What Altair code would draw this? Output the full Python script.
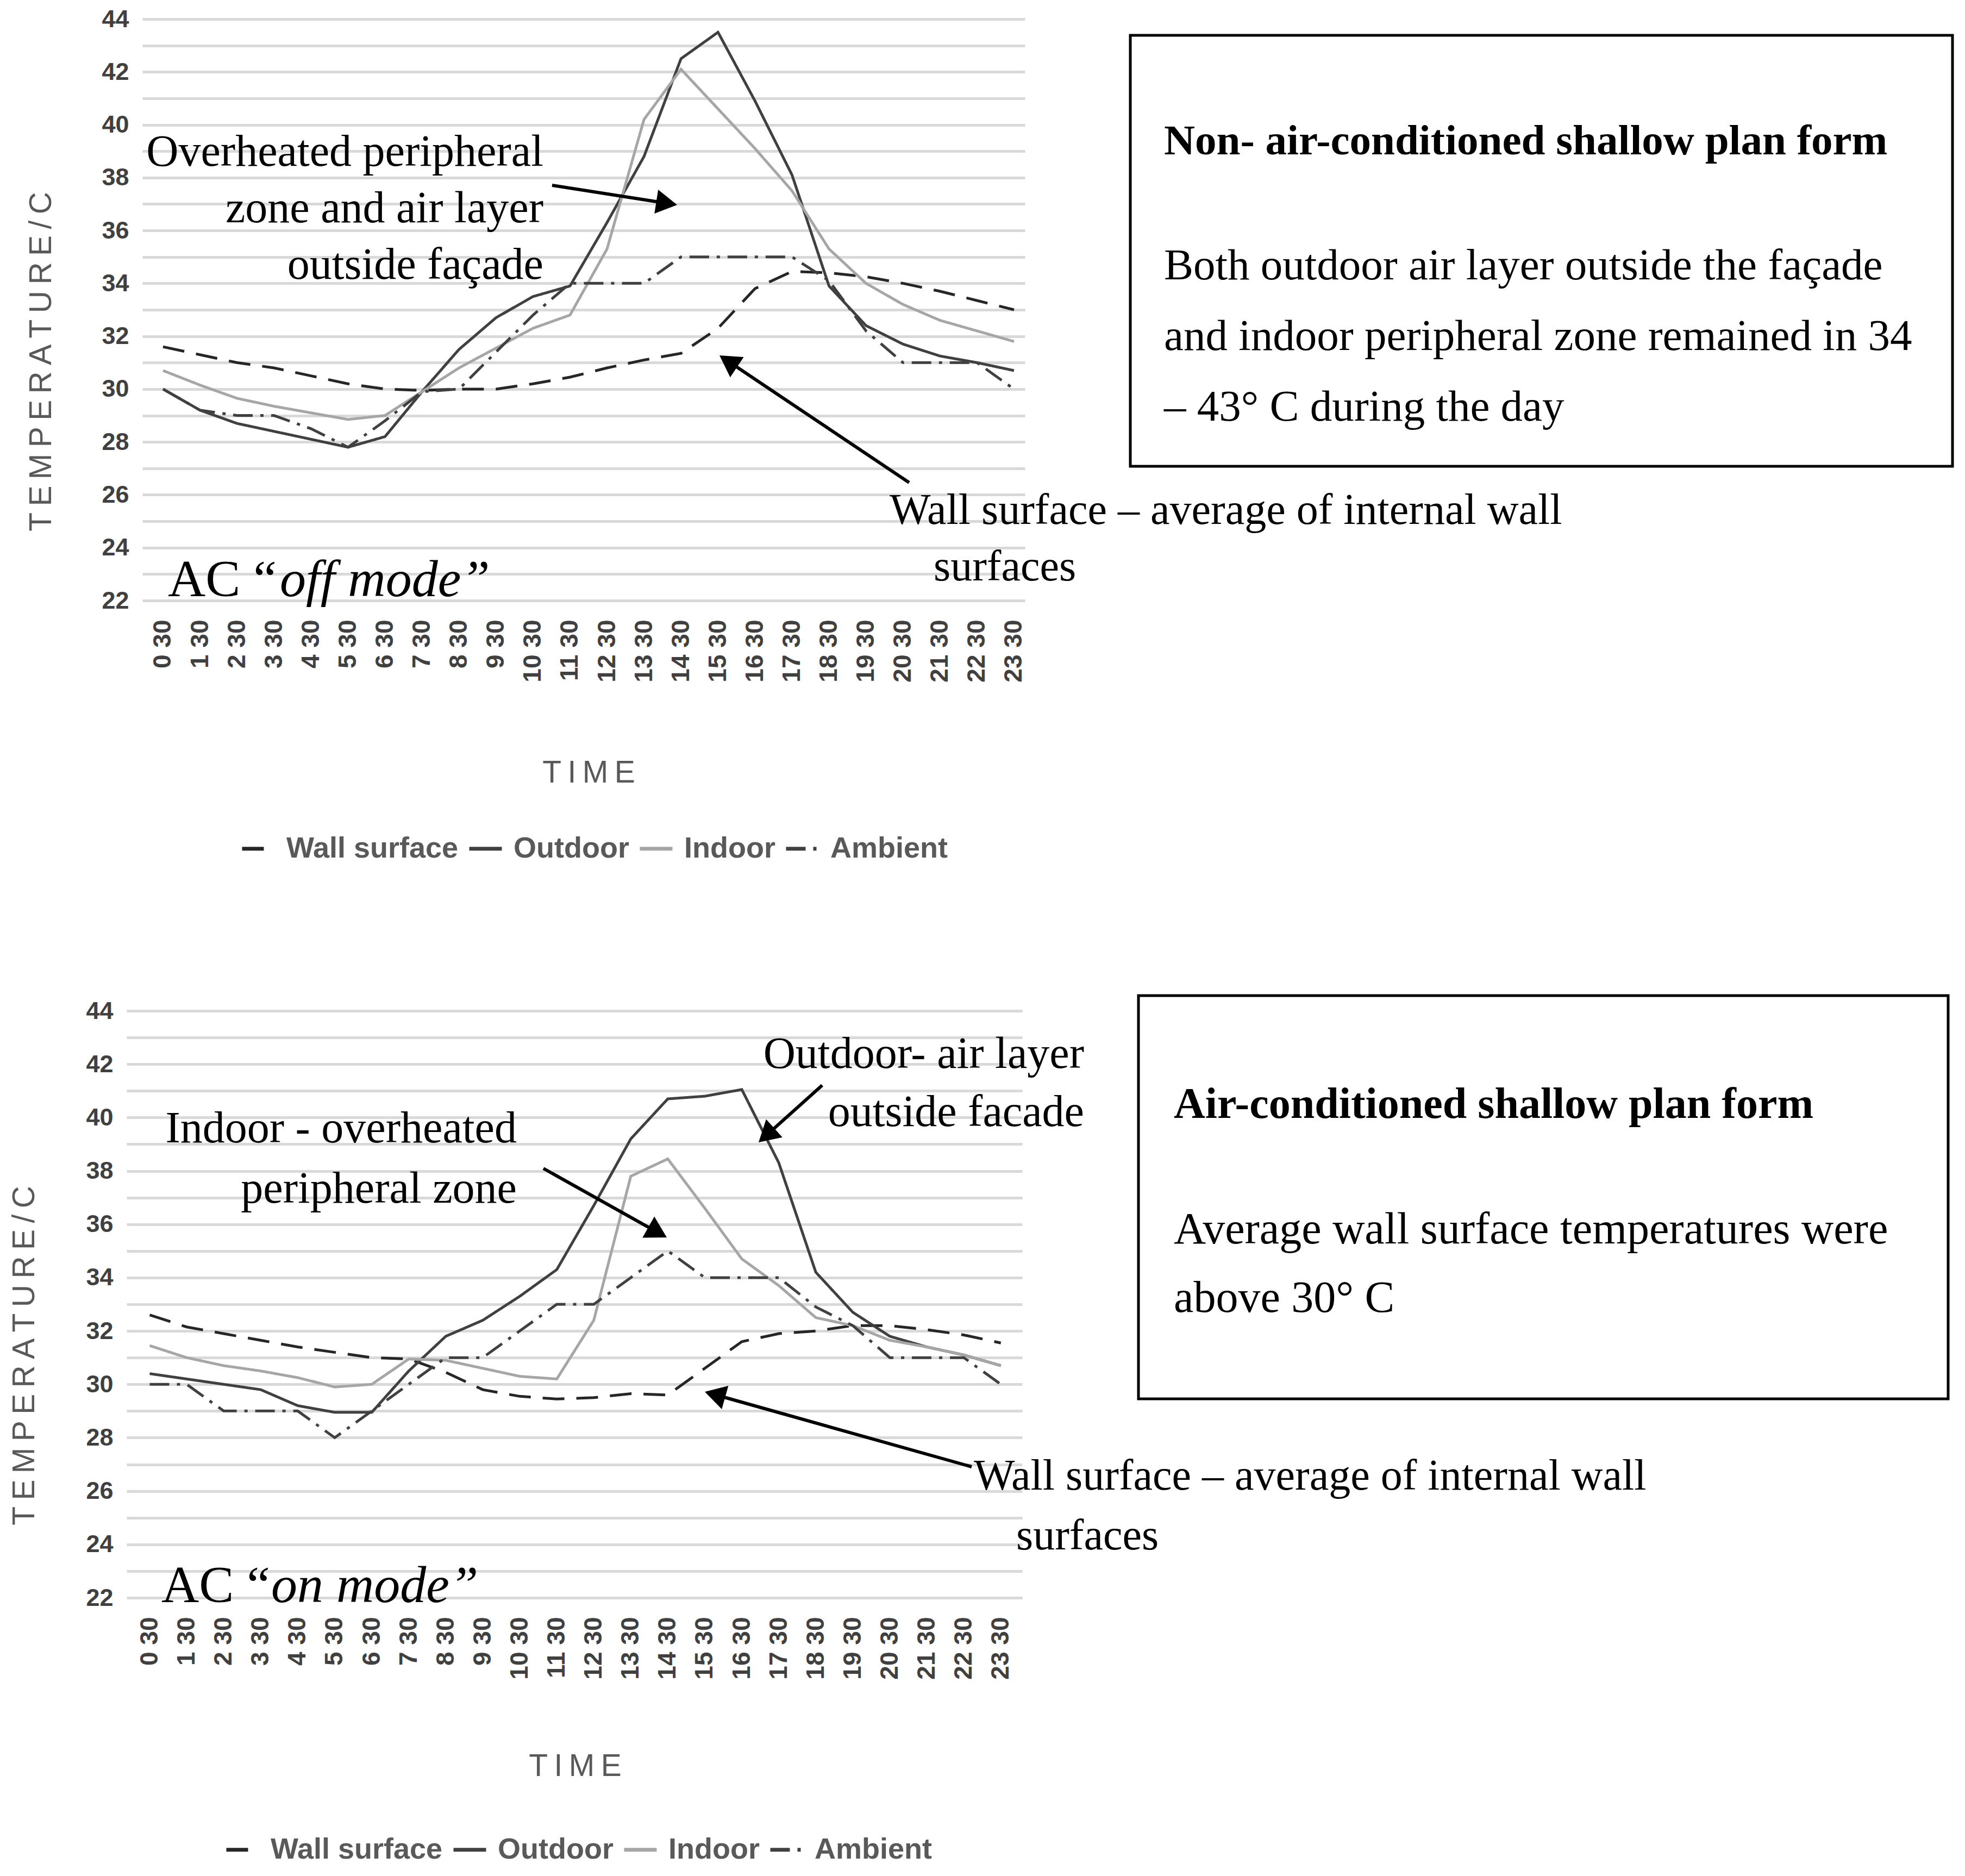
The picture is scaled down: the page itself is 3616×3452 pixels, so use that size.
import math
import altair as alt
import pandas as pd

# ---------------- data ----------------
times = ["0 30", "1 30", "2 30", "3 30", "4 30", "5 30", "6 30", "7 30", "8 30", "9 30",
         "10 30", "11 30", "12 30", "13 30", "14 30", "15 30", "16 30", "17 30", "18 30",
         "19 30", "20 30", "21 30", "22 30", "23 30"]
series_order = ["Wall surface", "Outdoor", "Indoor", "Ambient"]

off_wall = [31.6, 31.3, 31.0, 30.8, 30.5, 30.2, 30.0, 29.95, 30.0, 30.0, 30.2, 30.45,
            30.8, 31.1, 31.35, 32.3, 33.8, 34.45, 34.4, 34.25, 34.0, 33.7, 33.35, 33.0]
off_outdoor = [30.0, 29.2, 28.7, 28.4, 28.1, 27.8, 28.2, 29.9, 31.5, 32.7, 33.5, 33.9,
               36.3, 38.8, 42.5, 43.5, 40.9, 38.1, 33.9, 32.4, 31.7, 31.25, 31.0, 30.7]
off_indoor = [30.7, 30.15, 29.65, 29.35, 29.1, 28.85, 29.0, 29.9, 30.8, 31.55, 32.3, 32.8,
              35.3, 40.2, 42.1, 40.6, 39.1, 37.5, 35.3, 34.0, 33.2, 32.6, 32.2, 31.8]
off_ambient = [30.0, 29.2, 29.0, 29.0, 28.5, 27.8, 28.8, 29.9, 30.0, 31.4, 32.8, 34.0,
               34.0, 34.0, 35.0, 35.0, 35.0, 35.0, 34.1, 32.2, 31.0, 31.0, 31.0, 30.0]

on_wall = [32.6, 32.15, 31.9, 31.65, 31.4, 31.2, 31.0, 30.95, 30.45, 29.8, 29.55, 29.45,
           29.5, 29.65, 29.6, 30.6, 31.6, 31.9, 32.0, 32.2, 32.2, 32.05, 31.85, 31.55]
on_outdoor = [30.4, 30.2, 30.0, 29.8, 29.2, 28.95, 28.95, 30.5, 31.8, 32.4, 33.3, 34.3,
              36.7, 39.2, 40.7, 40.8, 41.05, 38.3, 34.2, 32.7, 31.8, 31.4, 31.1, 30.7]
on_indoor = [31.45, 31.0, 30.7, 30.5, 30.25, 29.9, 30.0, 30.95, 30.9, 30.6, 30.3, 30.2,
             32.4, 37.8, 38.45, 36.6, 34.7, 33.7, 32.5, 32.2, 31.65, 31.4, 31.1, 30.7]
on_ambient = [30.0, 30.0, 29.0, 29.0, 29.0, 28.0, 29.0, 30.0, 31.0, 31.0, 32.0, 33.0,
              33.0, 34.0, 35.0, 34.0, 34.0, 34.0, 32.9, 32.2, 31.0, 31.0, 31.0, 30.0]

y_ticks = [22, 23, 24, 25, 26, 27, 28, 29, 30, 31, 32, 33, 34, 35, 36, 37, 38, 39, 40,
           41, 42, 43, 44]


def long_df(wall, outdoor, indoor, ambient):
    rows = []
    for name, vals in zip(series_order, [wall, outdoor, indoor, ambient]):
        for t, v in zip(times, vals):
            rows.append({"time": t, "series": name, "temp": v})
    return pd.DataFrame(rows)


df_off = long_df(off_wall, off_outdoor, off_indoor, off_ambient)
df_on = long_df(on_wall, on_outdoor, on_indoor, on_ambient)

# ---------------- styling ----------------
SANS = "Liberation Sans"
SERIF = "Liberation Serif"
AXIS_GRAY = "#595959"
ONE = alt.Data(values=[{"k": 0}])
Y_TITLE = "T\u2009E\u2009M\u2009P\u2009E\u2009R\u2009A\u2009T\u2009U\u2009R\u2009E\u2009/\u2009C"


def legend_obj(lx, ly):
    return alt.Legend(orient="none", legendX=lx, legendY=ly, direction="horizontal",
                      title=None, symbolType="stroke", symbolSize=3600,
                      symbolStrokeWidth=7, labelFont=SANS, labelFontSize=54,
                      labelFontWeight="bold", labelColor=AXIS_GRAY, labelLimit=800,
                      labelOffset=18, columnPadding=5)


def line_chart(df, width, height, xrange, pad, align, yoff, ytx, yty, xtx, xty, lx, ly):
    leg = legend_obj(lx, ly)
    return alt.Chart(df).mark_line(strokeWidth=5).encode(
        x=alt.X("time:O", sort=times,
                scale=alt.Scale(type="point", padding=pad, align=align, range=xrange),
                axis=alt.Axis(labelAngle=270, labelFont=SANS, labelFontSize=46,
                              labelFontWeight="bold", labelColor="#404040",
                              labelOverlap=False, labelPadding=35, domain=False,
                              ticks=False, tickSize=0, grid=False,
                              title="T\u2009I\u2009M\u2009E", titleFont=SANS,
                              titleFontSize=57, titleFontWeight="normal",
                              titleColor=AXIS_GRAY, titleX=xtx, titleY=xty,
                              titleBaseline="alphabetic", titleAlign="center")),
        y=alt.Y("temp:Q", scale=alt.Scale(domain=[22, 44], nice=False, zero=False),
                axis=alt.Axis(values=y_ticks, offset=yoff,
                              labelExpr="datum.value % 2 === 0 ? datum.label : ''",
                              grid=True, gridColor="#d9d9d9", gridWidth=5,
                              domain=False, ticks=False, tickSize=0,
                              labelFont=SANS, labelFontSize=45, labelFontWeight="bold",
                              labelColor="#404040", labelPadding=25,
                              title=Y_TITLE,
                              titleFont=SANS, titleFontSize=57, titleFontWeight="normal",
                              titleColor=AXIS_GRAY, titleAngle=270, titleX=ytx,
                              titleY=yty, titleBaseline="middle", titleAlign="center")),
        color=alt.Color("series:N", sort=series_order,
                        scale=alt.Scale(domain=series_order,
                                        range=["#262626", "#404040", "#a6a6a6", "#404040"]),
                        legend=leg),
        strokeDash=alt.StrokeDash("series:N", sort=series_order,
                                  scale=alt.Scale(domain=series_order,
                                                  range=[[40, 22], [1, 0], [1, 0],
                                                         [36, 14, 6, 14]]),
                                  legend=leg),
    ).properties(width=width, height=height)


def text_layer(text, x, y, size=82, align="left", weight="normal", style="normal",
               line_height=104):
    return alt.Chart(ONE).mark_text(
        text=text, font=SERIF, fontSize=size, fontWeight=weight, fontStyle=style,
        align=align, baseline="alphabetic", color="black", lineHeight=line_height
    ).encode(x=alt.value(x), y=alt.value(y))


def arrow_layers(x1, y1, x2, y2, head=2000):
    dx, dy = x2 - x1, y2 - y1
    L = math.hypot(dx, dy)
    ux, uy = dx / L, dy / L
    hh = 0.866 * math.sqrt(head) / 2
    cx, cy = x2 - ux * hh, y2 - uy * hh
    ang = (math.degrees(math.atan2(ux, -uy)) + 360) % 360
    line = alt.Chart(ONE).mark_rule(color="black", strokeWidth=6).encode(
        x=alt.value(x1), y=alt.value(y1), x2=alt.value(cx), y2=alt.value(cy))
    headm = alt.Chart(ONE).mark_point(shape="triangle-up", filled=True, size=head,
                                      angle=ang, color="black", opacity=1,
                                      strokeWidth=0).encode(
        x=alt.value(cx), y=alt.value(cy))
    return [line, headm]


def box(x1, y1, x2, y2):
    return alt.Chart(ONE).mark_rect(fillOpacity=0, stroke="black", strokeWidth=5).encode(
        x=alt.value(x1), x2=alt.value(x2), y=alt.value(y1), y2=alt.value(y2))


def anchor(x):
    return alt.Chart(ONE).mark_rule(opacity=0, strokeWidth=1).encode(
        x=alt.value(x), y=alt.value(0), y2=alt.value(10))


# ---------------- top chart: AC off ----------------
top_lines = line_chart(df_off, 1624, 1070, [0, 1624], 0.426, 0.655, 0, -186, 630, 821,
                       334, 180, 1493)
top_layers = [top_lines, anchor(-254)]
top_layers.append(text_layer(["Overheated peripheral", "zone and air layer", "outside façade"],
                             738, 270, align="right", line_height=104))
top_layers += arrow_layers(754, 306, 984, 342)
top_layers += arrow_layers(1411, 853, 1062, 619)
top_layers.append(text_layer("Wall surface – average of internal wall", 1375, 929, size=80))
top_layers.append(text_layer("surfaces", 1456, 1033, size=80))
top_layers.append(text_layer("AC “", 47, 1062, size=96))
top_layers.append(text_layer("off mode”", 253, 1062, size=96, style="italic"))
top_layers.append(box(1818, 30, 3331, 823))
top_layers.append(text_layer("Non- air-conditioned shallow plan form", 1880, 249, size=79,
                             weight="bold"))
top_layers.append(text_layer(["Both outdoor air layer outside the façade",
                              "and indoor peripheral zone remained in 34",
                              "– 43° C during the day"], 1880, 479, size=81,
                             line_height=130))
top = alt.layer(*top_layers)

# ---------------- bottom chart: AC on (shifted 29px left of the top chart) ----------------
S = 29
bot_lines = line_chart(df_on, 1619, 1080, [-S, 1648 - S], 0.6, 0.52, S, -188, 634, 796,
                       327, 151, 1510)
bot_layers = [bot_lines]
bot_layers.append(text_layer(["Outdoor- air layer", "outside facade"], 1762 - S, 105,
                             align="right", line_height=107))
bot_layers += arrow_layers(1280 - S, 137, 1163 - S, 242)
bot_layers.append(text_layer(["Indoor - overheated", "peripheral zone"], 718 - S, 242,
                             align="right", line_height=111))
bot_layers += arrow_layers(767 - S, 290, 994 - S, 417)
bot_layers += arrow_layers(1555 - S, 839, 1064 - S, 701)
bot_layers.append(text_layer("Wall surface – average of internal wall", 1559 - S, 881,
                             size=80))
bot_layers.append(text_layer("surfaces", 1637 - S, 991, size=80))
bot_layers.append(text_layer("AC “", 64 - S, 1088, size=96))
bot_layers.append(text_layer("on mode”", 266 - S, 1088, size=96, style="italic"))
bot_layers.append(box(1862 - S, -28, 3352 - S, 714))
bot_layers.append(text_layer("Air-conditioned shallow plan form", 1927 - S, 197, size=80,
                             weight="bold"))
bot_layers.append(text_layer(["Average wall surface temperatures were", "above 30° C"],
                             1927 - S, 428, size=82, line_height=126))
bottom = alt.layer(*bot_layers)

chart = alt.concat(top, bottom, columns=1, spacing=240).resolve_scale(
    color="independent", strokeDash="independent", x="independent", y="independent"
).resolve_legend(color="independent", strokeDash="independent").properties(
    padding={"left": 0, "top": 5, "right": 5, "bottom": 5}
).configure_view(stroke=None)

chart.save("out.html", embed_options={"renderer": "svg", "actions": False})
